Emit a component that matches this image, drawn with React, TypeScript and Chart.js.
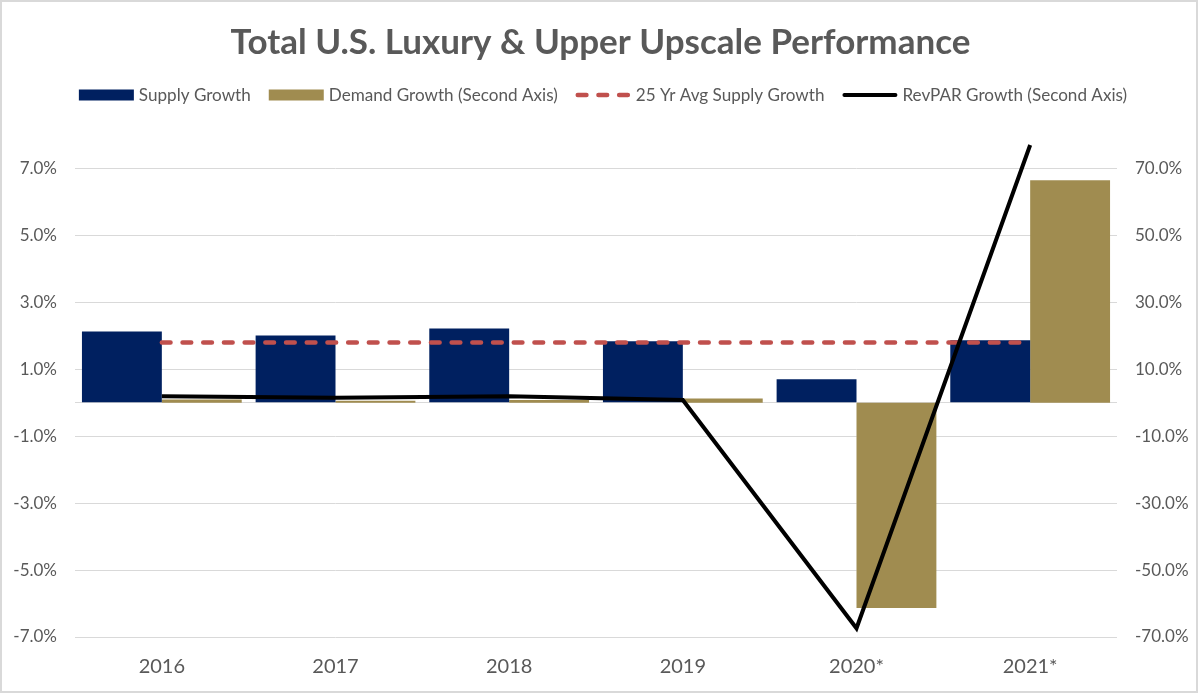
import React, { useEffect, useRef } from "react";
import { Chart, registerables } from "chart.js";

Chart.register(...registerables);

const categories = ["2016", "2017", "2018", "2019", "2020*", "2021*"];
const supplyGrowth = [2.13, 2.01, 2.22, 1.84, 0.7, 1.87];
const demandGrowth = [1.0, 0.6, 0.8, 1.3, -61.3, 66.5];
const avgSupplyGrowth = [1.8, 1.8, 1.8, 1.8, 1.8, 1.8];
const revparGrowth = [1.9, 1.5, 1.9, 0.8, -67.4, 77.0];
const leftTicks = [-7, -5, -3, -1, 0, 1, 3, 5, 7];
const rightTicks = [-70, -50, -30, -10, 10, 30, 50, 70];

const TEXT = "#595959";
const FONT = "Lato";

const bgBorderPlugin = {
  id: "bgBorder",
  beforeDraw(chart: any) {
    const ctx = chart.ctx;
    ctx.save();
    ctx.fillStyle = "#ffffff";
    ctx.fillRect(0, 0, chart.width, chart.height);
    ctx.strokeStyle = "#d9d9d9";
    ctx.lineWidth = 2;
    ctx.strokeRect(1, 1, 1196, 691);
    ctx.restore();
  },
};

const legendPlugin = {
  id: "customLegend",
  afterDraw(chart: any) {
    const ctx = chart.ctx;
    ctx.save();
    ctx.font = `17.1px ${FONT}`;
    const ds = chart.data.datasets;
    const sym = 55;
    const gap1 = 5;
    const gap2 = 18;
    const widths = ds.map((d: any) => sym + gap1 + ctx.measureText(d.label).width);
    const total = widths.reduce((a: number, b: number) => a + b, 0) + gap2 * (ds.length - 1);
    let x = 603 - total / 2;
    const y = 95;
    ds.forEach((d: any, i: number) => {
      if (d.type === "line") {
        ctx.save();
        ctx.strokeStyle = d.borderColor;
        ctx.lineWidth = d.borderWidth;
        ctx.lineCap = "round";
        ctx.setLineDash(d.borderDash || []);
        ctx.beginPath();
        ctx.moveTo(x + 2, y);
        ctx.lineTo(x + sym - 2, y);
        ctx.stroke();
        ctx.restore();
      } else {
        ctx.fillStyle = d.backgroundColor;
        ctx.fillRect(x, y - 5.5, sym, 11);
      }
      ctx.fillStyle = TEXT;
      ctx.textBaseline = "middle";
      ctx.textAlign = "left";
      ctx.fillText(d.label, x + sym + gap1, y);
      x += widths[i] + gap2;
    });
    ctx.restore();
  },
};

export default function App() {
  const ref = useRef<HTMLCanvasElement | null>(null);

  useEffect(() => {
    if (!ref.current) return;
    Chart.defaults.font.family = FONT;
    const chart = new Chart(ref.current, {
      type: "bar",
      data: {
        labels: categories,
        datasets: [
          {
            type: "bar",
            label: "Supply Growth",
            data: supplyGrowth,
            backgroundColor: "#002060",
            yAxisID: "y",
            order: 3,
            categoryPercentage: 0.92,
            barPercentage: 1,
          },
          {
            type: "bar",
            label: "Demand Growth (Second Axis)",
            data: demandGrowth,
            backgroundColor: "#A08C50",
            yAxisID: "y2",
            order: 3,
            categoryPercentage: 0.92,
            barPercentage: 1,
          },
          {
            type: "line",
            label: "25 Yr Avg Supply Growth",
            data: avgSupplyGrowth,
            borderColor: "#C0504D",
            borderWidth: 4.5,
            borderDash: [8.7, 12],
            borderCapStyle: "round",
            pointRadius: 0,
            yAxisID: "y",
            order: 2,
          },
          {
            type: "line",
            label: "RevPAR Growth (Second Axis)",
            data: revparGrowth,
            borderColor: "#000000",
            borderWidth: 4,
            borderJoinStyle: "miter",
            pointRadius: 0,
            yAxisID: "y2",
            order: 1,
          },
        ] as any,
      },
      options: {
        responsive: false,
        animation: false,
        devicePixelRatio: 1,
        layout: { padding: 0 },
        plugins: {
          legend: { display: false },
          tooltip: { enabled: false },
          title: {
            display: true,
            text: "Total U.S. Luxury & Upper Upscale Performance",
            color: TEXT,
            font: { family: FONT, size: 35, weight: "bold" },
            padding: { top: 21.5, bottom: 71.5 },
          },
        },
        scales: {
          x: {
            grid: { display: false, drawTicks: false },
            border: { display: false },
            ticks: { color: TEXT, font: { size: 20 }, padding: 17.5 },
            afterFit: (s: any) => {
              s.height = 57;
            },
          },
          y: {
            position: "left",
            min: -7,
            max: 8,
            grid: { color: "#d9d9d9", lineWidth: 1, drawTicks: false },
            border: { display: false },
            afterBuildTicks: (s: any) => {
              s.ticks = leftTicks.map((v) => ({ value: v }));
            },
            ticks: {
              color: TEXT,
              font: { size: 17 },
              padding: 18,
              callback: (v: any) => (Number(v) === 0 ? "" : Number(v).toFixed(1) + "%"),
            },
            afterFit: (s: any) => {
              s.width = 75;
            },
          },
          y2: {
            position: "right",
            min: -70,
            max: 80,
            grid: { display: false, drawTicks: false },
            border: { display: false },
            afterBuildTicks: (s: any) => {
              s.ticks = rightTicks.map((v) => ({ value: v }));
            },
            ticks: {
              color: TEXT,
              font: { size: 17 },
              padding: 18,
              callback: (v: any) => Number(v).toFixed(1) + "%",
            },
            afterFit: (s: any) => {
              s.width = 84;
            },
          },
        },
      } as any,
      plugins: [bgBorderPlugin, legendPlugin],
    });
    return () => chart.destroy();
  }, []);

  return (
    <div style={{ position: "absolute", left: 0, top: 0, width: 1201, height: 694 }}>
      <canvas ref={ref} width={1201} height={694} style={{ display: "block" }} />
    </div>
  );
}
